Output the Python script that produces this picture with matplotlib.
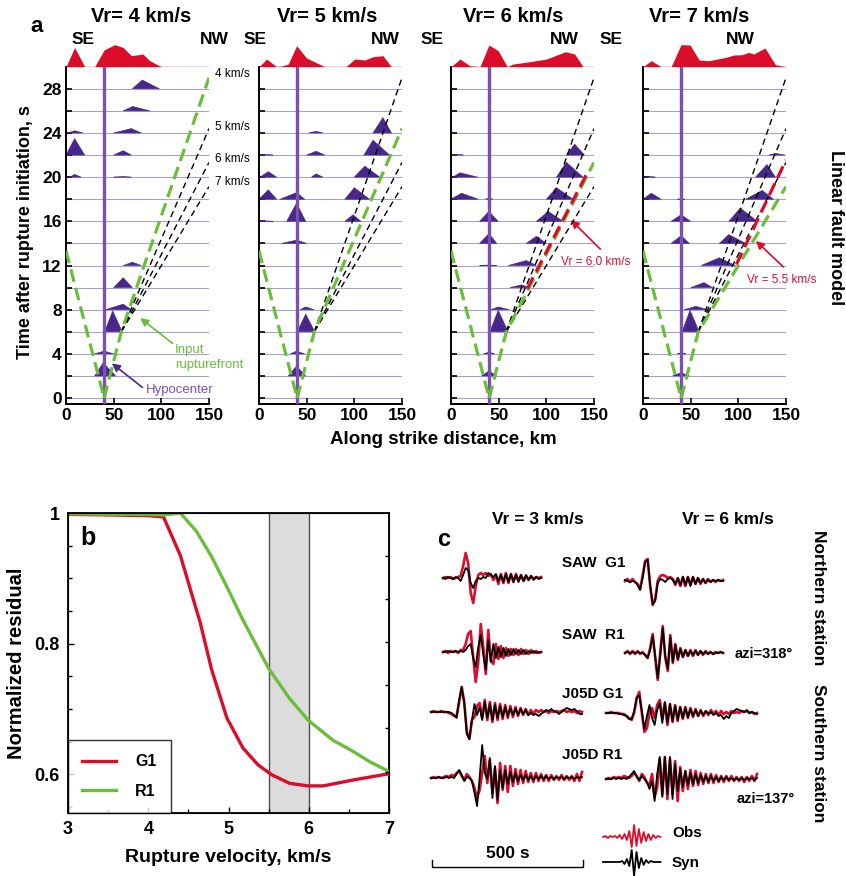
import numpy as np
import matplotlib
matplotlib.use("Agg")
import matplotlib.pyplot as plt
from matplotlib.patches import Polygon

plt.rcParams['font.family'] = ['Liberation Sans', 'DejaVu Sans']
plt.rcParams['font.weight'] = 'bold'
plt.rcParams['axes.labelweight'] = 'bold'

W, H = 846, 876

RED = '#dc0d2b'
GREEN = '#6cbd3a'
PURPLE = '#47288a'
HYPO_C = '#7a51b3'
GRID_C = '#a89fd3'

# ---------------- panel a: kinematic snapshots ----------------
vr_tested = [4, 5, 6, 7]
hypo_x = 40.0
init_v = 3.0          # initial rupture speed near the hypocenter, km/s
init_end_x = 58.0     # where the rupture switches to the tested speed, km
snap_times = [0, 2, 4, 6, 8, 10, 12, 14, 16, 18, 20, 22, 24, 26, 28]

# final slip along strike (top band), relative units
slip_x = [
    [0, 9, 19.6, 30, 39.9, 51, 59.8, 68.5, 80.8, 87.8, 100, 150],
    [0, 8, 18.5, 23.7, 30.7, 39.4, 49.9, 69, 91, 100.5, 111, 119.6, 130, 138.8, 150],
    [0, 9.4, 19.8, 30.3, 39.8, 49.5, 59, 65, 82.7, 100, 120, 129.7, 138.5, 150],
    [0, 8.7, 19, 29.5, 39.9, 49.3, 59, 69.4, 86.8, 95.5, 104, 111, 116, 128, 138.9, 150],
]
slip_amp = [
    [0, 58, 0, 0, 50, 66, 58, 33, 38, 18, 0, 0],
    [0, 23, 0, 2, 8, 63, 26, 0, 0, 23, 20, 30, 33, 0, 0],
    [0, 23, 3, 0, 65, 48, 0, 8, 15, 23, 45, 38, 0, 0],
    [0, 18, 0, 0, 66, 65, 20, 18, 28, 35, 36, 43, 38, 56, 6, 0],
]

# slip-rate pulses: (time, x_left, x_peak, x_right, height in s)
pulses = [
    [(2, 30, 39, 52, 1.2), (4, 30, 40, 50, 0.25), (6, 40.5, 49, 59, 1.9),
     (8, 41.6, 60, 68.5, 0.5), (10, 50, 60, 69.6, 0.9), (12, 60, 69.6, 79, 0.3),
     (20, 4, 9, 16, 0.25), (20, 50, 60, 68.5, 0.05), (22, 0, 9, 19.6, 1.5),
     (22, 50, 60, 68.5, 0.4), (24, 2, 9, 18, 0.2), (24, 50, 68.5, 79, 0.4),
     (26, 60, 70, 88, 0.4), (28, 69.6, 80, 98, 0.8)],
    [(2, 30.7, 39.4, 49, 0.9), (4, 33, 39.4, 48, 0.25), (6, 40, 49, 58.6, 1.6),
     (8, 43, 49, 58, 0.25), (14, 23.7, 39.4, 50, 0.3), (16, 0, 5, 15, 0.05),
     (16, 29, 39.4, 49, 1.65), (16, 90, 98.7, 107, 0.6), (18, 0, 9.8, 18.5, 0.85),
     (18, 22, 39.4, 48, 0.6), (18, 90, 100, 116, 1.05), (20, 1, 9.8, 18.5, 0.5),
     (20, 55, 60, 67, 0.3), (20, 100, 111, 126.6, 1.0), (22, 0, 5, 15, 0.05),
     (22, 50, 60, 69, 0.35), (22, 110, 119.6, 137, 1.35), (24, 52, 60, 67, 0.15),
     (24, 119.6, 130, 139, 1.4)],
    [(2, 32, 39.8, 48, 0.45), (4, 34, 39.8, 46, 0.15), (6, 40.8, 49.5, 60, 1.95),
     (8, 42, 49.5, 61, 0.25), (10, 61.7, 74, 82.7, 0.25), (12, 30, 39.8, 48, 0.05),
     (12, 60, 79, 89.6, 0.45), (14, 30, 39.8, 48, 0.9), (14, 79, 89.6, 100, 0.65),
     (16, 30, 39.8, 49.5, 0.9), (16, 89.6, 102, 117.5, 0.9), (18, 0, 11, 28.6, 0.55),
     (18, 36, 39.8, 44, 0.1), (18, 100, 110.6, 128, 1.05), (20, 2, 9.4, 28, 0.4),
     (20, 110.6, 121, 138.5, 1.35), (22, 0, 5, 13, 0.05), (22, 121, 129.7, 140, 1.0)],
    [(2, 31, 40, 48.6, 0.3), (4, 36, 40, 45, 0.05), (6, 41, 49.3, 59, 1.95),
     (8, 43, 55.5, 68, 0.3), (10, 50, 64, 73, 0.45), (12, 61, 80, 97, 0.7),
     (14, 29.5, 40, 48.6, 0.7), (14, 80, 90, 107.6, 0.8), (16, 29.5, 40, 50, 0.6),
     (16, 90, 102, 120, 1.2), (18, 0, 8.7, 19, 0.55), (18, 36, 40, 44, 0.05),
     (18, 107.6, 125, 137, 0.8), (20, 3, 8, 13, 0.05), (20, 118, 130, 139, 1.15),
     (22, 132, 139, 149, 0.15)],
]

# fitted rupture front from the pulses: (x_start, x_end, t_start, speed)
fit_fronts = [None, None, (80, 144, 9.9, 6.0), (98, 150, 12.1, 5.5)]
fit_labels = [None, None, 'Vr = 6.0 km/s', 'Vr = 5.5 km/s']

# ---------------- panel b: residual vs rupture velocity ----------------
vr_grid_g1 = [3.0, 3.5, 4.0, 4.19, 4.4, 4.65, 4.79, 4.98, 5.18, 5.37, 5.54, 5.76, 5.99, 6.18, 6.55, 6.97, 7.0]
res_g1 = [0.998, 0.997, 0.996, 0.994, 0.935, 0.831, 0.76, 0.686, 0.64, 0.614, 0.599, 0.586, 0.582, 0.582, 0.591, 0.600, 0.600]
vr_grid_r1 = [3.0, 3.5, 4.0, 4.19, 4.4, 4.6, 4.79, 4.98, 5.18, 5.5, 5.76, 5.99, 6.3, 6.55, 6.76, 6.97, 7.0]
res_r1 = [0.999, 0.998, 0.998, 0.997, 1.0, 0.972, 0.933, 0.887, 0.836, 0.762, 0.716, 0.683, 0.652, 0.635, 0.619, 0.606, 0.604]
best_range = (5.5, 6.0)

# ---------------- panel c: waveform fits (amplitudes in plot points) ----------------
saw_g1_vr3_obs = [0, 1, 0, 1, -1, 0, 1, 2, 12, 25, 15, -15, -25, -8, 3, 5, 3, 5, 2, 4,
                  -2, 3, -6, 4, -5, 5, -5, 4, -4, 4, -3, 3, -3, 2, -2, 2, -1, 1, 0, 1]
saw_g1_vr3_syn = [0, -1, 1, 0, -1, 1, 0, -3, 3, 10, 8, -5, -10, -3, 0, -1, 1, 0, 5, 3,
                  1, 4, -3, 3, -4, 4, -4, 4, -4, 3, -4, 3, -3, 3, -2, 2, -2, 1, -1, 0]
saw_g1_vr6_obs = [0, 2, -1, 2, -1, -3, -8, 5, 20, 22, -5, -24, -18, 0, 5, 6, 5, 3, 4, 2,
                  -4, 3, -5, 4, -5, 4, -4, 4, -3, 3, -3, 2, -2, 2, -1, 1, -1, 1, 0, 1]
saw_g1_vr6_syn = [1, 0, -1, 0, -1, -4, -9, 3, 19, 21, -4, -23, -20, -2, 2, 1, -1, 2, 3, 1,
                  -3, 3, -4, 4, -4, 4, -5, 4, -3, 3, -2, 2, -2, 1, -1, 1, 0, 1, 0, 0]
saw_r1_vr3_obs = [0, 1, -1, 1, 0, 1, -1, 2, 2, 8, 18, 21, -5, -30, -10, 28, 5, -22, 22, -8,
                  -12, 8, -7, 6, -6, 4, -4, 3, -3, 3, -3, 3, -2, 2, -2, 2, -1, 1, -1, 0]
saw_r1_vr3_syn = [0, 0, 1, 0, 0, 1, 0, 1, 0, 2, 6, 8, -6, -15, 5, 17, -3, -18, 12, -10,
                  8, -6, 5, -5, 4, -4, 3, -3, 3, -2, 2, -2, 2, -2, 1, -1, 1, -1, 0, 0]
saw_r1_vr6_obs = [0, 2, -1, 2, -1, 2, -1, 1, -2, -5, 5, 19, -5, -27, 0, 27, -5, -18, 18, -10,
                  9, -7, 5, -4, 3, -3, 3, -3, 3, -2, 2, -2, 2, -1, 1, -1, 1, 0, 1, 0]
saw_r1_vr6_syn = [0, 1, 0, 1, 0, 1, 0, 0, -2, -5, 3, 17, -3, -25, -2, 25, -3, -16, 16, -9,
                  8, -6, 4, -4, 3, -3, 2, -2, 2, -2, 2, -1, 1, -1, 1, -1, 0, 0, 1, 0]
j05d_g1_vr3_obs = [0, 1, 0, 0, 1, 0, 0, -1, -2, -4, -4, 10, 25, 10, -20, -27, -8, -5, 6, 9,
                   -6, 12, -8, 10, -10, 9, -8, 8, -7, 7, -6, 6, -5, 5, -4, 4, -3, 3, -3, 2,
                   -2, 2, 0, 2, 0, 1, -1, 1, 0, 1, 0, 1, 2, 0, 1, 0, 1, -1, 1, 0]
j05d_g1_vr3_syn = [0, 0, 0, 0, 0, 0, 0, 0, -1, -3, -6, 12, 25, 8, -22, -27, -8, 8, -3, 5,
                   -8, 10, -6, 8, -8, 7, -6, 6, -5, 5, -4, 4, -3, 3, -3, 3, -2, 2, -3, -1,
                   -3, -2, -4, -2, 0, 2, 1, 3, 1, 0, -2, 0, 2, 4, 3, 2, 3, 1, -2, -2]
j05d_r1_vr3_obs = [0, 1, 0, 1, 0, 1, 2, 1, 3, 2, 5, 7, 2, -2, 4, 1, -3, -10, -20, -12,
                   5, 22, -5, 18, -15, 10, -25, 15, -12, 12, -14, 12, -8, 9, -6, 8, -5, 7, -4, 5,
                   -4, 5, -3, 4, -3, 3, -3, 3, -2, 2, -2, 3, -2, 2, -2, 2, -3, 4, -3, 6]
j05d_r1_vr3_syn = [0, 0, 0, 1, 0, 0, 1, 0, 1, 0, 4, 8, 3, -3, 1, 0, -3, -15, -28, 0,
                   33, 5, -1, 20, -20, 12, -22, 8, -10, 8, -6, 6, -4, 5, -3, 3, -2, 3, -2, 2,
                   -2, 2, -1, 2, -1, 2, -1, 1, -1, 1, 0, 1, -1, 1, 0, 1, -1, 1, 0, 1]
j05d_g1_vr6_obs = [0, 0, 1, 0, 0, 0, -1, -1, -3, -5, -7, 0, 15, 21, 0, -19, -15, 0, 5, -5,
                   8, 13, -6, 10, -12, 9, -9, 8, -8, 6, -6, 6, -5, 5, -4, 4, -3, 3, -3, 2,
                   -2, 3, -1, 2, -2, 2, -1, 1, -1, 2, 0, 1, 0, 2, 1, 2, 0, 1, -1, 0]
j05d_g1_vr6_syn = [0, 0, 0, 0, 0, -1, -1, -2, -3, -6, -6, 2, 15, 18, 2, -16, -3, 8, -5, -12,
                   3, 10, -10, 11, -10, 9, -8, 7, -7, 6, -5, 5, -4, 4, -3, 3, -3, 2, -2, 2,
                   -1, 1, -2, 0, -3, -2, -6, -3, -5, 0, 2, 4, 3, 2, 1, 3, 0, 1, 0, -1]
j05d_r1_vr6_obs = [0, 1, 0, 2, 1, 2, 1, 3, 2, 1, 3, 6, 3, -2, 5, 2, -4, -6, 5, -18,
                   -8, 20, -16, 22, -20, 20, -15, 18, -22, 12, -12, 8, -10, 9, -7, 8, -6, 6, -5, 5,
                   -4, 5, -4, 4, -3, 3, -3, 3, -2, 3, -2, 2, -2, 2, -3, 2, -2, 3, -2, 5]
j05d_r1_vr6_syn = [0, 0, 0, 1, 0, 1, 0, 1, 0, 2, 5, 8, 2, -1, 3, 0, -3, -10, -2, -22,
                   5, 22, -18, 22, -15, 22, -20, 15, -12, 10, -8, 8, -6, 6, -5, 5, -4, 4, -3, 3,
                   -3, 3, -2, 2, -2, 2, -1, 2, -1, 1, -1, 1, -1, 1, -1, 1, 0, 1, -1, 1]
legend_obs = [0, 1, -1, 1, 0, 1, -1, 2, -2, 3, -3, 6, -10, 12, -9, 8, -6, 5, -4, 3, -3, 2, -1, 1, 0]
legend_syn = [0, 0, 0, 0, 0, 0, 0, 0, 1, -2, 3, -4, 12, -14, 10, -6, 4, -3, 2, -1, 1, 0, 0, 0, 0]

traces = [
    # obs, syn, left px, baseline px, duration s
    (saw_g1_vr3_obs, saw_g1_vr3_syn, 443, 578, 325),
    (saw_g1_vr6_obs, saw_g1_vr6_syn, 625, 581, 325),
    (saw_r1_vr3_obs, saw_r1_vr3_syn, 443, 652, 325),
    (saw_r1_vr6_obs, saw_r1_vr6_syn, 625, 653, 325),
    (j05d_g1_vr3_obs, j05d_g1_vr3_syn, 431, 712, 500),
    (j05d_g1_vr6_obs, j05d_g1_vr6_syn, 606, 713, 500),
    (j05d_r1_vr3_obs, j05d_r1_vr3_syn, 431, 778, 500),
    (j05d_r1_vr6_obs, j05d_r1_vr6_syn, 606, 779, 500),
]
scale_bar_s = 500
px_per_s = 151 / 500


def fx(px):
    return px / W


def fy(py):
    return 1 - py / H


fig = plt.figure(figsize=(W / 100, H / 100), dpi=100)

# ---------------- panel a ----------------
lefts = [66, 259, 451, 643]
ax_top, ax_bot, ax_w = 66.7, 404, 143
t_break = (init_end_x - hypo_x) / init_v

for k, vr in enumerate(vr_tested):
    ax = fig.add_axes([fx(lefts[k]), fy(ax_bot), ax_w / W, (ax_bot - ax_top) / H])
    ax.set_xlim(0, 150)
    ax.set_ylim(-0.54, 30)
    for t in snap_times:
        ax.plot([0, 150], [t, t], color=GRID_C, lw=0.8, zorder=1)
    for (t, xl, xp, xr, h) in pulses[k]:
        ax.add_patch(Polygon([(xl, t), (xp, t + h), (xr, t)], closed=True,
                             fc=PURPLE, ec=PURPLE, lw=0.4, zorder=2))
    ax.plot([hypo_x, hypo_x], [-0.54, 30], color=HYPO_C, lw=2.4, zorder=3)

    for v in vr_tested:
        if v == vr:
            continue
        ax.plot([init_end_x, 150], [t_break, t_break + (150 - init_end_x) / v],
                color='k', lw=1.0, dashes=(4.5, 3), zorder=4)

    ax.plot([0, hypo_x], [hypo_x / init_v, 0], color=GREEN, lw=2.3, dashes=(4, 2), zorder=5)
    ax.plot([hypo_x, init_end_x, 150], [0, t_break, t_break + (150 - init_end_x) / vr],
            color=GREEN, lw=2.3, dashes=(4, 2), zorder=5)

    if fit_fronts[k] is not None:
        x0, x1, t0, v = fit_fronts[k]
        ax.plot([x0, x1], [t0, t0 + (x1 - x0) / v], color=RED, lw=2.3,
                dashes=(4, 2), zorder=6)

    for s in ['top', 'right']:
        ax.spines[s].set_visible(False)
    for s in ['left', 'bottom']:
        ax.spines[s].set_linewidth(1.4)
    ax.set_yticks([0, 4, 8, 12, 16, 20, 24, 28])
    ax.set_yticks([2, 6, 10, 14, 18, 22, 26], minor=True)
    ax.set_xticks([0, 50, 100, 150])
    ax.tick_params(direction='in', length=4, width=1.2, labelsize=12.5, pad=3)
    ax.tick_params(which='minor', direction='in', length=4, width=1.2)
    if k > 0:
        ax.tick_params(labelleft=False)

    # final slip band above each panel
    axs = fig.add_axes([fx(lefts[k]), fy(ax_top), ax_w / W, 26.7 / H])
    axs.fill_between(slip_x[k], 0, slip_amp[k], color=RED, lw=0)
    axs.plot([0, 150], [0, 0], color=RED, lw=1.0)
    axs.set_xlim(0, 150)
    axs.set_ylim(0, 80)
    axs.axis('off')

    fig.text(fx([141, 327, 513, 699][k]), fy(17), f'Vr= {vr} km/s', ha='center',
             va='center', fontsize=14.5)

    if k == 0:
        for lab, tt in zip(['4 km/s', '5 km/s', '6 km/s', '7 km/s'], [29.3, 24.5, 21.6, 19.6]):
            ax.text(156, tt, lab, fontsize=8.5, fontweight='normal', va='center',
                    ha='left', clip_on=False)
        ax.annotate('', xy=(75.5, 7.4), xytext=(114, 4.8),
                    arrowprops=dict(arrowstyle='-|>', color=GREEN, lw=1.2, mutation_scale=12),
                    annotation_clip=False)
        ax.text(114.5, 3.7, 'Input\nrupturefront', color=GREEN, fontsize=9.5,
                fontweight='normal', va='center', ha='left', linespacing=1.3)
        ax.annotate('', xy=(45.8, 3.3), xytext=(82.5, 0.8),
                    arrowprops=dict(arrowstyle='-|>', color=PURPLE, lw=1.2, mutation_scale=12),
                    annotation_clip=False)
        ax.text(84, 0.75, 'Hypocenter', color=HYPO_C, fontsize=9.5,
                fontweight='normal', va='center', ha='left', clip_on=False)
    if k == 2:
        ax.annotate('', xy=(123.8, 16.3), xytext=(158.7, 13.3),
                    arrowprops=dict(arrowstyle='-|>', color=RED, lw=1.2, mutation_scale=12),
                    annotation_clip=False)
        ax.text(115.5, 12.3, fit_labels[k], color=RED, fontsize=8.5,
                fontweight='normal', va='center', ha='left', clip_on=False)
    if k == 3:
        ax.annotate('', xy=(116.3, 14.4), xytext=(149.3, 11.7),
                    arrowprops=dict(arrowstyle='-|>', color=RED, lw=1.2, mutation_scale=12),
                    annotation_clip=False)
        ax.text(108.7, 10.7, fit_labels[k], color=RED, fontsize=8.5,
                fontweight='normal', va='center', ha='left', clip_on=False)

for xc in [83, 255, 432, 611]:
    fig.text(fx(xc), fy(40), 'SE', ha='center', va='center', fontsize=12.5)
for xc in [214, 385, 564, 740]:
    fig.text(fx(xc), fy(40), 'NW', ha='center', va='center', fontsize=12.5)
fig.text(fx(37), fy(27), 'a', ha='center', va='center', fontsize=16)
fig.text(fx(25), fy(232), 'Time after rupture initiation, s', rotation=90,
         ha='center', va='center', fontsize=13)
fig.text(fx(443), fy(440), 'Along strike distance, km', ha='center', va='center', fontsize=13.5)
fig.text(fx(835), fy(228), 'Linear fault model', rotation=270, ha='center',
         va='center', fontsize=13)

# ---------------- panel b ----------------
axb = fig.add_axes([fx(68), fy(813), 321 / W, 300 / H])
axb.axvspan(best_range[0], best_range[1], color='#dcdcdc', lw=0, zorder=0)
for xv in best_range:
    axb.axvline(xv, color='#4d4d4d', lw=1.0, zorder=1)
axb.plot(vr_grid_g1, res_g1, color=RED, lw=2.4, label='G1', zorder=3)
axb.plot(vr_grid_r1, res_r1, color=GREEN, lw=2.4, label='R1', zorder=3)
axb.set_xlim(3, 7)
axb.set_ylim(0.5405, 1.0)
axb.set_xticks([3, 4, 5, 6, 7])
axb.set_xticks([3.5, 4.5, 5.5, 6.5], minor=True)
axb.set_yticks([0.6, 0.8, 1.0])
axb.set_yticklabels(['0.6', '0.8', '1'])
axb.set_yticks([0.55, 0.65, 0.7, 0.75, 0.85, 0.9, 0.95], minor=True)
axb.tick_params(direction='in', length=4, width=1.0, labelsize=13, pad=6)
axb.tick_params(which='minor', direction='in', length=3, width=1.0)
for s in axb.spines.values():
    s.set_linewidth(1.3)
axr = axb.twinx()
axr.set_ylim(0.5405, 1.0)
axr.set_yticks([0.604, 0.670, 0.736, 0.802, 0.868, 0.934])
axr.set_yticklabels([])
axr.tick_params(direction='in', length=3, width=1.0)
leg = axb.legend(loc='lower left', fontsize=11.5, frameon=True, fancybox=False,
                 edgecolor='k', borderaxespad=0, handlelength=2.1, handletextpad=1.2,
                 borderpad=0.9, labelspacing=0.9)
leg.get_frame().set_linewidth(1.0)
axb.set_xlabel('Rupture velocity, km/s', fontsize=14, labelpad=8)
axb.set_ylabel('Normalized residual', fontsize=14.5, labelpad=6)
fig.text(fx(88), fy(538), 'b', ha='center', va='center', fontsize=18)

# ---------------- panel c ----------------
axc = fig.add_axes([fx(420), 0, (W - 420) / W, (H - 500) / H])
axc.set_xlim(420, W)
axc.set_ylim(H, 500)
axc.axis('off')
for obs, syn, x0, base, dur in traces:
    t_obs = np.linspace(0, dur, len(obs))
    t_syn = np.linspace(0, dur, len(syn))
    axc.plot(x0 + t_obs * px_per_s, base - np.array(obs), color=RED, lw=1.9,
             solid_joinstyle='round')
    axc.plot(x0 + t_syn * px_per_s, base - np.array(syn), color='k', lw=1.3,
             solid_joinstyle='round')

t_leg = np.linspace(0, 190, len(legend_obs))
axc.plot(603 + t_leg * px_per_s, 837 - np.array(legend_obs), color=RED, lw=1.3)
t_leg = np.linspace(0, 190, len(legend_syn))
axc.plot(603 + t_leg * px_per_s, 862 - np.array(legend_syn), color='k', lw=1.3)

bar_x0 = 432
axc.plot([bar_x0, bar_x0, bar_x0 + scale_bar_s * px_per_s, bar_x0 + scale_bar_s * px_per_s],
         [860, 867, 867, 860], color='k', lw=1.0)
fig.text(fx(bar_x0 + scale_bar_s * px_per_s / 2), fy(853), f'{scale_bar_s} s',
         ha='center', va='center', fontsize=12.5)

fig.text(fx(538), fy(519), 'Vr = 3 km/s', ha='center', va='center', fontsize=12.5)
fig.text(fx(728), fy(519), 'Vr = 6 km/s', ha='center', va='center', fontsize=12.5)
fig.text(fx(444), fy(539), 'c', ha='center', va='center', fontsize=17)
for lab, yy in zip(['SAW  G1', 'SAW  R1', 'J05D G1', 'J05D R1'], [563, 635, 694, 755]):
    fig.text(fx(562), fy(yy), lab, ha='left', va='center', fontsize=11)
fig.text(fx(735), fy(654), 'azi=318°', ha='left', va='center', fontsize=10.5)
fig.text(fx(737), fy(799), 'azi=137°', ha='left', va='center', fontsize=10.5)
fig.text(fx(672), fy(833), 'Obs', ha='left', va='center', fontsize=11)
fig.text(fx(672), fy(863), 'Syn', ha='left', va='center', fontsize=11)
fig.text(fx(818), fy(598), 'Northern station', rotation=270, ha='center',
         va='center', fontsize=12.5)
fig.text(fx(818), fy(753), 'Southern station', rotation=270, ha='center',
         va='center', fontsize=12.5)

fig.savefig('out.png', dpi=100)
